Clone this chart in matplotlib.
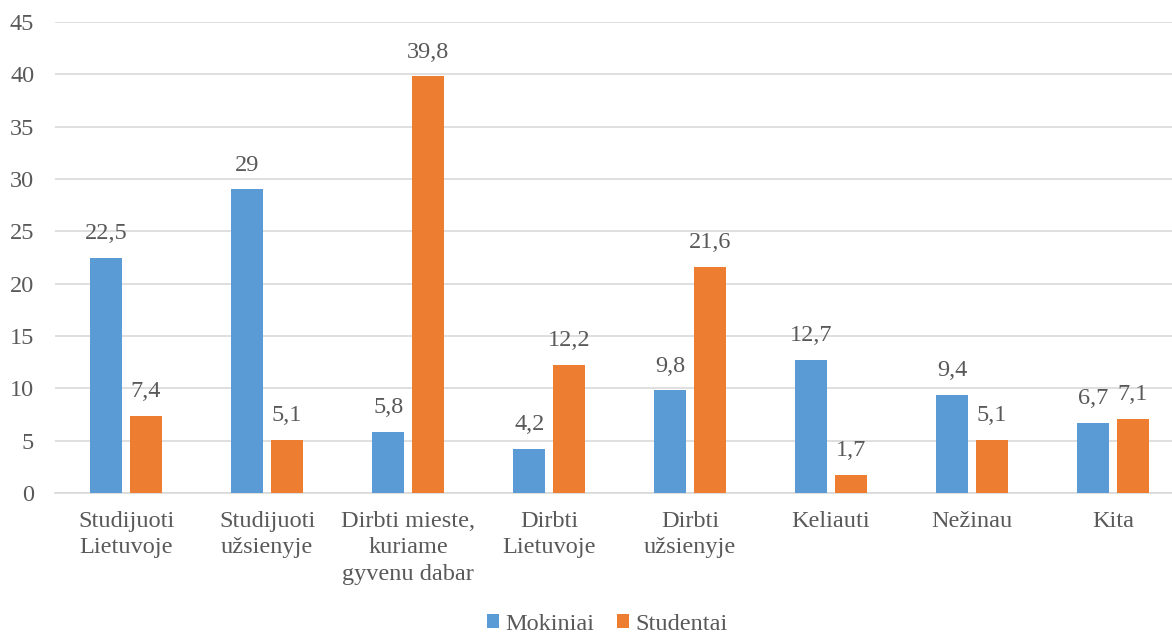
import matplotlib
matplotlib.use("Agg")
import matplotlib.pyplot as plt
import numpy as np

categories = ["Studijuoti\nLietuvoje", "Studijuoti\nužsienyje", "Dirbti mieste,\nkuriame\ngyvenu dabar",
              "Dirbti\nLietuvoje", "Dirbti\nužsienyje", "Keliauti", "Nežinau", "Kita"]
mokiniai = [22.5, 29, 5.8, 4.2, 9.8, 12.7, 9.4, 6.7]
studentai = [7.4, 5.1, 39.8, 12.2, 21.6, 1.7, 5.1, 7.1]
series_names = ["Mokiniai", "Studentai"]
yticks = [0, 5, 10, 15, 20, 25, 30, 35, 40, 45]

blue = "#5b9bd5"
orange = "#ed7d31"
txt = "#595959"
fs = 17.5

plt.rcParams['font.family'] = ['Liberation Serif', 'DejaVu Serif']

fig = plt.figure(figsize=(11.72, 6.37), dpi=100)
ax = fig.add_axes([55/1172, 1-493/637, 1117/1172, (493-22)/637])

x = np.arange(len(categories))
w = 0.227
off = 0.14
b1 = ax.bar(x - off, mokiniai, w, color=blue, label=series_names[0], zorder=3)
b2 = ax.bar(x + off, studentai, w, color=orange, label=series_names[1], zorder=3)

def fmt(v):
    return ("%g" % v).replace(".", ",")

for bars, vals in ((b1, mokiniai), (b2, studentai)):
    for r, v in zip(bars, vals):
        ax.annotate(fmt(v), (r.get_x() + r.get_width()/2, v), xytext=(0, 10),
                    textcoords="offset points", ha="center", va="bottom",
                    fontsize=fs, color=txt)

ax.set_xlim(-0.504, 7.42)
ax.set_ylim(0, 45)
ax.set_yticks(yticks)
ax.set_yticklabels([str(t) for t in yticks], fontsize=fs, color=txt)
ax.set_xticks(x)
ax.set_xticklabels(categories, fontsize=fs, color=txt, linespacing=1.33, va="top")
ax.tick_params(axis="both", length=0)
ax.tick_params(axis="y", pad=15)
ax.tick_params(axis="x", pad=13)
ax.grid(axis="y", color="#d9d9d9", linewidth=1.2, zorder=0)
for s in ["top", "right", "left"]:
    ax.spines[s].set_visible(False)
ax.spines["bottom"].set_color("#d9d9d9")
ax.spines["bottom"].set_linewidth(1.2)

fig.legend(handles=[b1, b2], labels=series_names, loc="center", bbox_to_anchor=(607/1172, 1-624/637),
           ncol=2, frameon=False, fontsize=fs, handlelength=0.5, handleheight=0.5,
           handletextpad=0.25, columnspacing=0.95, labelcolor=txt,
           borderpad=0.1)

fig.savefig("out.png", dpi=100)
